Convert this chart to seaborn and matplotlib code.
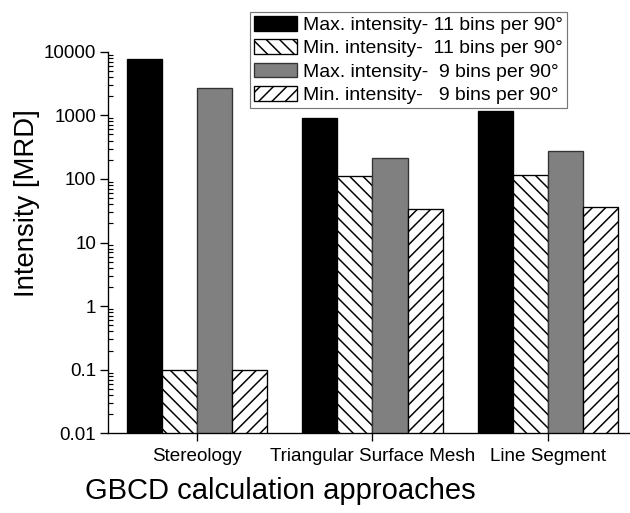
import pandas as pd
import numpy as np
import matplotlib
matplotlib.use("Agg")
import matplotlib.pyplot as plt
import matplotlib.ticker as mticker
import seaborn as sns

approaches = ["Stereology", "Triangular Surface Mesh", "Line Segment"]
series = [
    "Max. intensity- 11 bins per 90°",
    "Min. intensity-  11 bins per 90°",
    "Max. intensity-  9 bins per 90°",
    "Min. intensity-   9 bins per 90°",
]
max_11 = [7800, 900, 1170]
min_11 = [0.1, 111, 117]
max_9 = [2650, 215, 278]
min_9 = [0.1, 33.5, 36.5]
ytick_vals = [0.01, 0.1, 1, 10, 100, 1000, 10000]
ytick_labels = ["0.01", "0.1", "1", "10", "100", "1000", "10000"]

rows = []
for name, vals in zip(series, [max_11, min_11, max_9, min_9]):
    for a, v in zip(approaches, vals):
        rows.append({"approach": a, "series": name, "intensity": v})
df = pd.DataFrame(rows)

sns.set_style("ticks")
plt.rcParams["font.family"] = ["Liberation Sans", "DejaVu Sans"]
plt.rcParams["hatch.linewidth"] = 0.9
for k in ["text.color", "axes.labelcolor", "xtick.color", "ytick.color", "axes.edgecolor"]:
    plt.rcParams[k] = "black"

fig = plt.figure(figsize=(5.25, 4.275), dpi=120)
ax = fig.add_axes([0.1714, 0.1553, 0.8286, 0.7439])

colors = ["#000000", "#ffffff", "#808080", "#ffffff"]
sns.barplot(data=df, x="approach", y="intensity", hue="series", hue_order=series,
            palette=colors, width=0.8, gap=0, edgecolor="black", linewidth=0.8,
            errorbar=None, legend=False, saturation=1, ax=ax)
ax.set_yscale("log")

hatches = [None, "\\\\\\", None, "///"]
for cont, h in zip(ax.containers, hatches):
    for bar in cont:
        if h:
            bar.set_hatch(h)
for bar in ax.containers[2]:
    bar.set_edgecolor("#333333")

ax.set_ylim(0.01, 10000)
ax.set_xlim(-0.51, 2.47)
ax.set_yticks(ytick_vals, ytick_labels)
ax.yaxis.set_minor_locator(mticker.LogLocator(base=10, subs=np.arange(2, 10), numticks=20))
ax.yaxis.set_minor_formatter(mticker.NullFormatter())
ax.tick_params(axis="y", which="major", direction="out", length=5, width=0.8,
               labelsize=11.3, pad=2)
ax.tick_params(axis="y", which="minor", direction="in", length=3, width=0.7)
ax.tick_params(axis="x", direction="out", length=5, width=0.8, labelsize=11.3, pad=4)

for s in ["top", "right"]:
    ax.spines[s].set_visible(False)
for s in ["left", "bottom"]:
    ax.spines[s].set_linewidth(0.8)

ax.set_xlabel("GBCD calculation approaches", fontsize=17.5)
ax.xaxis.set_label_coords(0.33, -0.115)
ax.set_ylabel("Intensity [MRD]", fontsize=16.5)
ax.yaxis.set_label_coords(-0.13, 0.603)

leg = ax.legend(handles=ax.containers, labels=series, loc="upper left",
                bbox_to_anchor=(250 / 630, 1 - 12 / 513), bbox_transform=fig.transFigure,
                fontsize=11.6, frameon=True, fancybox=False, borderpad=0.2,
                labelspacing=0.27, handlelength=2.25, handleheight=0.8,
                handletextpad=0.3, borderaxespad=0)
leg.get_frame().set_edgecolor("#555555")
leg.get_frame().set_linewidth(0.7)

fig.savefig("out.png", dpi=120)
